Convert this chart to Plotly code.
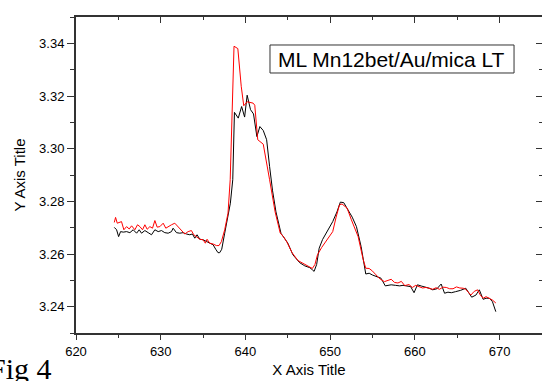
import plotly.graph_objects as go

# ---- data ----
black_x = [624.52, 624.79, 625.03, 625.26, 625.58, 625.97, 626.36, 626.75, 627.15, 627.46,
           627.73, 628.13, 628.52, 628.91, 629.31, 629.70, 630.09, 630.48, 630.88, 631.27,
           631.46, 631.86, 632.25, 632.64, 633.03, 633.43, 633.74, 634.02, 634.29, 634.61,
           635.00, 635.39, 635.78, 636.18, 636.49, 636.76, 636.96, 637.20, 637.55, 637.94,
           638.22, 638.5, 638.7, 639.15, 639.55, 639.9, 640.2, 640.6, 640.95, 641.35,
           641.7, 642.1, 642.5, 642.85, 643.2, 643.6, 644.2, 644.6, 645.0, 645.6,
           646.4, 647.0, 647.6, 647.9, 648.1, 648.4, 648.7, 649.1, 649.5, 650.3,
           650.8, 651.2, 651.6, 652.1, 652.6, 653.1, 653.65, 654.2, 654.6, 655.0,
           655.2, 655.6, 656.0, 656.5, 657.2, 657.7, 658.2, 658.6, 659.1, 659.5,
           659.9, 660.3, 660.8, 661.3, 661.7, 662.1, 662.6, 663.1, 663.5, 663.9,
           664.3, 664.8, 665.4, 666.0, 666.7, 667.2, 667.6, 668.05, 668.4, 668.8,
           669.15, 669.55]
black_y = [3.2701, 3.2692, 3.2666, 3.2685, 3.2683, 3.2685, 3.2681, 3.2692, 3.2679, 3.2692,
           3.2679, 3.2689, 3.2681, 3.2673, 3.2692, 3.2685, 3.2689, 3.2681, 3.2679, 3.2685,
           3.2698, 3.2681, 3.2679, 3.2681, 3.2676, 3.2673, 3.2676, 3.2660, 3.2673, 3.2656,
           3.2654, 3.2647, 3.2641, 3.2635, 3.2618, 3.2605, 3.2605, 3.2618, 3.2679, 3.2742,
           3.2793, 3.2882, 3.3138, 3.3116, 3.3160, 3.3120, 3.3203, 3.3148, 3.3132, 3.3046,
           3.3084, 3.3069, 3.3034, 3.2932, 3.2840, 3.2760, 3.2678, 3.2660, 3.2641, 3.2597,
           3.2567, 3.2555, 3.2548, 3.2540, 3.2534, 3.2560, 3.2622, 3.2655, 3.2679, 3.2723,
           3.2760, 3.2797, 3.2795, 3.2768, 3.2740, 3.2704, 3.2628, 3.2524, 3.2527, 3.2520,
           3.2517, 3.2512, 3.2508, 3.2479, 3.2483, 3.2481, 3.2479, 3.2481, 3.2479, 3.2476,
           3.2453, 3.2483, 3.2478, 3.2474, 3.2470, 3.2464, 3.2468, 3.2486, 3.2451, 3.2455,
           3.2453, 3.2457, 3.2462, 3.2470, 3.2436, 3.2444, 3.2464, 3.2428, 3.2432, 3.2432,
           3.2419, 3.2381]

red_x = [624.52, 624.67, 624.87, 625.10, 625.37, 625.65, 625.97, 626.28, 626.56, 626.95,
         627.26, 627.54, 627.85, 628.13, 628.40, 628.72, 629.03, 629.31, 629.58, 629.90,
         630.29, 630.60, 630.88, 631.27, 631.66, 632.05, 632.44, 632.84, 633.23, 633.62,
         633.90, 634.21, 634.61, 635.00, 635.27, 635.47, 635.78, 636.18, 636.57, 636.88,
         637.16, 637.55, 637.94, 638.2, 638.65, 639.1, 639.5, 639.8, 640.2, 640.9,
         641.1, 641.45, 642.1, 642.85, 643.2, 643.5, 644.1, 644.5, 644.9, 645.5,
         646.2, 646.9, 647.5, 647.9, 648.2, 648.5, 649.0, 649.5, 650.0, 650.3,
         650.7, 651.1, 651.4, 652.0, 652.5, 653.3, 653.9, 654.2, 654.6, 655.0,
         655.4, 655.9, 656.4, 656.8, 657.2, 657.6, 658.0, 658.4, 658.8, 659.3,
         659.7, 660.1, 660.5, 660.9, 661.3, 661.7, 662.1, 662.5, 662.9, 663.3,
         663.7, 664.1, 664.5, 664.9, 665.3, 665.7, 666.0, 666.3, 666.6, 667.0,
         667.4, 667.7, 668.05, 668.4, 668.8, 669.15, 669.55]
red_y = [3.2720, 3.2739, 3.2717, 3.2720, 3.2723, 3.2692, 3.2704, 3.2695, 3.2707, 3.2692,
         3.2711, 3.2704, 3.2692, 3.2711, 3.2694, 3.2704, 3.2698, 3.2727, 3.2702, 3.2704,
         3.2717, 3.2698, 3.2704, 3.2711, 3.2717, 3.2704, 3.2692, 3.2676, 3.2685, 3.2689,
         3.2673, 3.2664, 3.2656, 3.2654, 3.2641, 3.2656, 3.2641, 3.2638, 3.2632, 3.2632,
         3.2647, 3.2692, 3.2755, 3.2882, 3.3389, 3.3380, 3.3237, 3.3163, 3.3178, 3.3173,
         3.3165, 3.3034, 3.3017, 3.2882, 3.2806, 3.2760, 3.2680, 3.2665, 3.2645, 3.2605,
         3.2575, 3.2562, 3.2553, 3.2545, 3.2560, 3.2597, 3.2625, 3.2647, 3.2670, 3.2685,
         3.2740, 3.2787, 3.2790, 3.2774, 3.2730, 3.2666, 3.2578, 3.2546, 3.2545, 3.2535,
         3.2521, 3.2505, 3.2495, 3.2500, 3.2504, 3.2492, 3.2490, 3.2496, 3.2480, 3.2484,
         3.2473, 3.2481, 3.2476, 3.2471, 3.2473, 3.2468, 3.2466, 3.2472, 3.2466, 3.2474,
         3.2473, 3.2468, 3.2468, 3.2475, 3.2471, 3.2470, 3.2466, 3.2455, 3.2444, 3.2458,
         3.2464, 3.2445, 3.2432, 3.2438, 3.2432, 3.2425, 3.2414]

x_range = [620, 675]
y_range = [3.23, 3.35]
x_ticks = [620, 630, 640, 650, 660, 670]
y_ticks = [3.24, 3.26, 3.28, 3.30, 3.32, 3.34]
label_text = "ML Mn12bet/Au/mica LT"
fig_label = "Fig 4"

FONT = "Liberation Sans, Arial, sans-serif"
AX = "#333333"

fig = go.Figure()
fig.add_trace(go.Scatter(x=black_x, y=black_y, mode="lines",
                         line=dict(color="black", width=1), showlegend=False))
fig.add_trace(go.Scatter(x=red_x, y=red_y, mode="lines", xaxis="x2", yaxis="y2",
                         line=dict(color="#ff0000", width=1), showlegend=False))

fig.update_layout(
    width=542, height=381,
    margin=dict(l=76, r=0, t=17, b=48),
    paper_bgcolor="white", plot_bgcolor="white",
    font=dict(family=FONT, color="black"),
    xaxis=dict(range=x_range, tickvals=x_ticks, ticks="outside", ticklen=5,
               tickwidth=1, tickcolor=AX, showline=True, linecolor=AX, linewidth=2,
               showgrid=False, zeroline=False, tickfont=dict(size=13),
               minor=dict(dtick=5, tick0=620, ticks="outside", ticklen=3, tickcolor=AX),
               title=dict(text="X Axis Title", font=dict(size=15), standoff=7)),
    yaxis=dict(range=y_range, tickvals=y_ticks, tickformat=".2f", ticks="outside",
               ticklen=7, tickwidth=1, tickcolor=AX, showline=True, linecolor=AX,
               linewidth=2, showgrid=False, zeroline=False, tickfont=dict(size=13),
               minor=dict(dtick=0.01, tick0=3.23, ticks="outside", ticklen=4, tickcolor=AX),
               title=dict(text="Y Axis Title", font=dict(size=15), standoff=10)),
    xaxis2=dict(range=x_range, overlaying="x", side="top", tickvals=x_ticks,
                ticks="inside", ticklen=6, tickcolor=AX, showline=True, linecolor=AX,
                linewidth=2, showticklabels=False, showgrid=False, zeroline=False,
                minor=dict(dtick=5, tick0=620, ticks="inside", ticklen=3, tickcolor=AX)),
    yaxis2=dict(range=y_range, overlaying="y", side="right", tickvals=y_ticks,
                ticks="inside", ticklen=6, tickcolor=AX, showline=False,
                showticklabels=False, showgrid=False, zeroline=False,
                minor=dict(dtick=0.01, tick0=3.23, ticks="inside", ticklen=3, tickcolor=AX)),
)

fig.add_shape(type="rect", xref="paper", yref="paper",
              x0=0.4163, x1=0.940, y0=0.8228, y1=0.9114,
              line=dict(color=AX, width=1), fillcolor="white", layer="above")
fig.add_annotation(xref="paper", yref="paper", x=0.678, y=0.867,
                   text=label_text, showarrow=False,
                   font=dict(size=21, family=FONT, color="black"),
                   xanchor="center", yanchor="middle")
fig.add_annotation(xref="paper", yref="paper", x=-0.047, y=-0.112,
                   text=fig_label, showarrow=False,
                   font=dict(size=30, family="Liberation Serif, Times New Roman, serif",
                             color="black"),
                   xanchor="right", yanchor="middle")

fig.write_html("out.html", config={"displayModeBar": False},
               post_script="document.body.style.margin='0';document.body.style.overflow='hidden';")
